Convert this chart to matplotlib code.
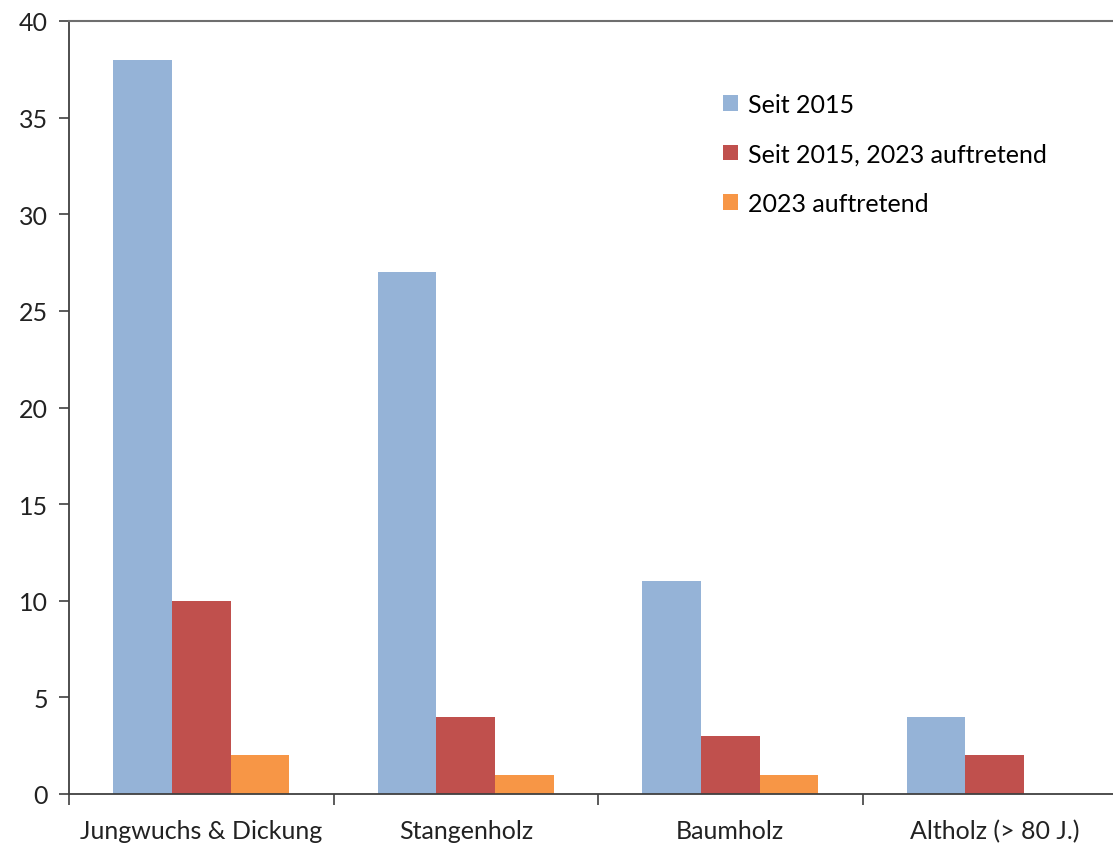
import matplotlib
matplotlib.use("Agg")
import matplotlib.pyplot as plt
import numpy as np

categories = ["Jungwuchs & Dickung", "Stangenholz", "Baumholz", "Altholz (> 80 J.)"]
series_names = ["Seit 2015", "Seit 2015, 2023 auftretend", "2023 auftretend"]
seit_2015 = [38, 27, 11, 4]
seit_2015_2023 = [10, 4, 3, 2]
auftretend_2023 = [2, 1, 1, 0]
yticks = [0, 5, 10, 15, 20, 25, 30, 35, 40]

colors = ["#95B3D7", "#C0504D", "#F79646"]

plt.rcParams['font.family'] = ['Lato', 'DejaVu Sans']

fig = plt.figure(figsize=(11.13, 8.45), dpi=100)
ax = fig.add_axes([69/1113, 1-795/845, (1127-69)/1113, (795-22)/845])

x = np.arange(len(categories))
w = 0.222
data = [seit_2015, seit_2015_2023, auftretend_2023]
for i, (vals, name, c) in enumerate(zip(data, series_names, colors)):
    ax.bar(x + (i - 1) * w, vals, width=w, color=c, label=name, zorder=2)

ax.set_xlim(-0.5, len(categories) - 0.5)
ax.set_ylim(0, 40)
ax.set_yticks(yticks)
ax.set_yticklabels([str(t) for t in yticks], fontsize=18, color="#222222")
ax.set_xticks(x)
ax.set_xticklabels(categories, fontsize=18, color="#222222")
ax.tick_params(axis='x', length=0, pad=18)
ax.set_xticks(np.arange(len(categories) + 1) - 0.5, minor=True)
ax.tick_params(axis='x', which='minor', length=8, width=1.2, color="#404040", direction='out')
ax.tick_params(axis='y', length=7, width=1.2, color="#404040", direction='out', pad=8)

for s in ['left', 'bottom']:
    ax.spines[s].set_color("#404040")
    ax.spines[s].set_linewidth(1.3)
ax.spines['right'].set_visible(False)
ax.spines['top'].set_color("#6e6e6e")
ax.spines['top'].set_linewidth(1.5)

leg = ax.legend(loc='upper left', bbox_to_anchor=((713-69)/1058, 1-(84-22)/773),
                frameon=False, fontsize=18, handlelength=0.6, handleheight=0.6,
                handletextpad=0.4, labelspacing=1.05, borderaxespad=0)

fig.savefig("out.png", dpi=100)
